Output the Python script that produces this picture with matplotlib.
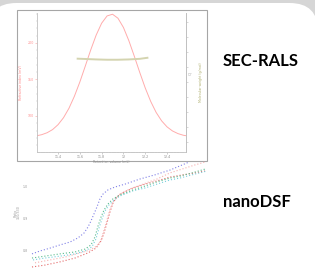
import matplotlib
matplotlib.use('Agg')
import matplotlib.pyplot as plt
from matplotlib.patches import FancyBboxPatch, Rectangle
from matplotlib.ticker import MultipleLocator, FixedLocator

# SEC-RALS thumbnail: refractive index trace and molecular weight
volume = [11.20, 11.25, 11.30, 11.35, 11.40, 11.45, 11.50, 11.55, 11.60, 11.65,
          11.70, 11.75, 11.80, 11.85, 11.90, 11.95, 12.00, 12.05, 12.10, 12.15,
          12.20, 12.25, 12.30, 12.35, 12.40, 12.45, 12.50, 12.55, 12.60]
ri_signal = [72.8, 74.4, 77.1, 81.4, 88.1, 97.6, 110.5, 127.0, 146.5, 168.3,
             190.5, 210.8, 227.0, 237.0, 239.3, 233.8, 221.2, 203.0, 181.7, 159.5,
             138.4, 120.0, 104.9, 93.4, 85.1, 79.5, 75.9, 73.6, 72.4]
mw_volume = [11.58, 11.65, 11.75, 11.85, 11.95, 12.05, 12.15, 12.22]
mw_value = [55.6, 55.4, 55.1, 54.9, 54.9, 55.1, 55.5, 56.2]
vol_ticks = [11.4, 11.6, 11.8, 12.0, 12.2, 12.4]
vol_labels = ['11.4', '11.6', '11.8', '12', '12.2', '12.4']

# nanoDSF thumbnail: ratio curves vs temperature
temp_blue = [20.8, 24, 28, 32, 36, 39.2, 41.6, 43.2, 44.4, 45.6, 46.8, 48, 49.2,
             51.2, 54, 58, 64, 70, 76, 80, 83.6]
ratio_blue = [0.791, 0.800, 0.809, 0.819, 0.828, 0.841, 0.856, 0.875, 0.894, 0.916,
              0.938, 0.963, 0.978, 0.991, 1.000, 1.009, 1.025, 1.038, 1.053, 1.066, 1.078]
temp_green = [20.8, 26, 32, 38, 42, 44.4, 46, 47.2, 48.4, 49.6, 51.2, 53.2, 56,
              61.2, 66, 70.8, 76, 80, 84.8, 90]
ratio_green = [0.778, 0.784, 0.791, 0.797, 0.806, 0.819, 0.844, 0.878, 0.906, 0.928,
               0.947, 0.963, 0.975, 0.991, 1.003, 1.016, 1.028, 1.034, 1.044, 1.056]
temp_cyan = [21.2, 26, 32, 38, 42, 44.8, 46.4, 47.6, 48.8, 50, 51.6, 53.6, 56,
             61.2, 66, 70.8, 76, 80, 84.8, 90.8]
ratio_cyan = [0.772, 0.778, 0.784, 0.791, 0.800, 0.813, 0.838, 0.872, 0.900, 0.925,
              0.944, 0.959, 0.972, 0.988, 0.997, 1.009, 1.022, 1.028, 1.038, 1.050]
temp_salmon = [22, 28, 34, 40, 44, 46.8, 48.4, 49.6, 50.8, 52, 53.6, 56, 60, 65.2,
               70.8, 76, 82, 86, 90]
ratio_salmon = [0.763, 0.772, 0.781, 0.794, 0.803, 0.816, 0.834, 0.866, 0.897, 0.931,
                0.959, 0.978, 0.994, 1.009, 1.025, 1.044, 1.059, 1.069, 1.078]
temp_red = [20.8, 26, 32, 38, 43.2, 46.4, 48.4, 49.6, 50.8, 52, 53.2, 54.8, 56.8,
            61.2, 66, 70.8, 76, 81.2, 86, 90]
ratio_red = [0.750, 0.756, 0.766, 0.778, 0.794, 0.809, 0.831, 0.856, 0.888, 0.922,
             0.950, 0.969, 0.981, 0.997, 1.009, 1.019, 1.031, 1.038, 1.044, 1.050]
ratio_ticks = [0.8, 0.9, 1.0]

W, H = 315, 275
fig = plt.figure(figsize=(W / 100, H / 100), dpi=100)
fig.patch.set_facecolor('#d6d6d6')

def fx(px):
    return px / W

def fy(py):
    return 1 - py / H

# white slide area with rounded corners
slide = FancyBboxPatch((fx(-12), fy(330)), fx(330), (330 - 3) / H,
                       boxstyle='round,pad=0,rounding_size=0.09',
                       transform=fig.transFigure, facecolor='white', edgecolor='none',
                       mutation_aspect=W / H, zorder=-3)
fig.patches.append(slide)

# frame of the SEC picture
fig.patches.append(Rectangle((fx(17), fy(161)), fx(190), 151 / H, transform=fig.transFigure,
                             facecolor='white', edgecolor='#a6a6a6', linewidth=0.8,
                             zorder=-2))

ax = fig.add_axes([fx(37), fy(152), fx(149), 139 / H])
ax.patch.set_alpha(0)
ax.plot(volume, ri_signal, color='#ffacac', linewidth=0.7)
ax.set_xlim(11.207, 12.574)
ax.set_ylim(50.7, 241)
ax.spines['top'].set_visible(False)
for s in ['left', 'bottom', 'right']:
    ax.spines[s].set_color('#c0c0c0')
    ax.spines[s].set_linewidth(0.6)
ax.xaxis.set_major_locator(FixedLocator(vol_ticks))
ax.set_xticklabels(vol_labels)
ax.xaxis.set_minor_locator(MultipleLocator(0.025))
ax.yaxis.set_major_locator(MultipleLocator(50))
ax.yaxis.set_minor_locator(MultipleLocator(10))
ax.tick_params(axis='x', which='major', labelsize=2.3, length=1.5, width=0.4, pad=0.8,
               colors='#aaaaaa', labelcolor='#888888')
ax.tick_params(axis='x', which='minor', length=0.8, width=0.3, colors='#bbbbbb')
ax.tick_params(axis='y', which='major', labelsize=2.3, length=1.5, width=0.4, pad=0.8,
               colors='#ffa0a0', labelcolor='#ff9090')
ax.tick_params(axis='y', which='minor', length=0.8, width=0.3, colors='#bbbbbb')
ax.set_xlabel('Retention volume (mL)', fontsize=2.3, color='#888888', labelpad=0.8)
ax.set_ylabel('Refractive index (mV)', fontsize=2.3, color='#ff8888', labelpad=3)

ax2 = ax.twinx()
ax2.plot(mw_volume, mw_value, color='#d4d4b0', linewidth=1.4)
ax2.set_ylim(-6.5, 86)
for s in ['top', 'left', 'bottom']:
    ax2.spines[s].set_visible(False)
ax2.spines['right'].set_color('#c0c0c0')
ax2.spines['right'].set_linewidth(0.6)
ax2.yaxis.set_major_locator(MultipleLocator(10))
ax2.set_yticklabels([])
ax2.tick_params(axis='y', length=1.2, width=0.4, colors='#bbbbbb')
ax2.text(1.015, 0.565, 'Q', transform=ax2.transAxes, fontsize=3, color='#aaaaaa',
         rotation=90, va='center')
ax2.set_ylabel('Molecular weight (g/mol)', fontsize=2.3, color='#b0b070', labelpad=5)

# nanoDSF panel
bx = fig.add_axes([fx(30), fy(270), fx(180), 115 / H])
bx.patch.set_alpha(0)
dots = (0, (1, 1.8))
bx.plot(temp_salmon, ratio_salmon, color='#f6b0b0', linewidth=0.8, linestyle=dots)
bx.plot(temp_red, ratio_red, color='#e46868', linewidth=0.8, linestyle=dots)
bx.plot(temp_cyan, ratio_cyan, color='#78d0dc', linewidth=0.8, linestyle=dots)
bx.plot(temp_green, ratio_green, color='#58bc8c', linewidth=0.8, linestyle=dots)
bx.plot(temp_blue, ratio_blue, color='#8080e6', linewidth=0.8, linestyle=dots)
bx.set_xlim(20, 92)
bx.set_ylim(0.7406, 1.1)
for s in bx.spines.values():
    s.set_visible(False)
bx.set_xticks([])
bx.set_yticks(ratio_ticks)
bx.set_yticklabels(['0.8', '0.9', '1.0'])
bx.tick_params(axis='y', length=0, labelsize=2.3, pad=1.5, labelcolor='#999999')
bx.set_ylabel('Ratio\n350/330', fontsize=2.3, color='#999999', labelpad=1, linespacing=1)

fig.text(fx(261), fy(61), 'SEC-RALS', fontsize=12, fontweight='bold', family='Lato',
         ha='center', va='center', color='black')
fig.text(fx(257), fy(202), 'nanoDSF', fontsize=12, fontweight='bold', family='Lato',
         ha='center', va='center', color='black')

fig.savefig('out.png', dpi=100)
